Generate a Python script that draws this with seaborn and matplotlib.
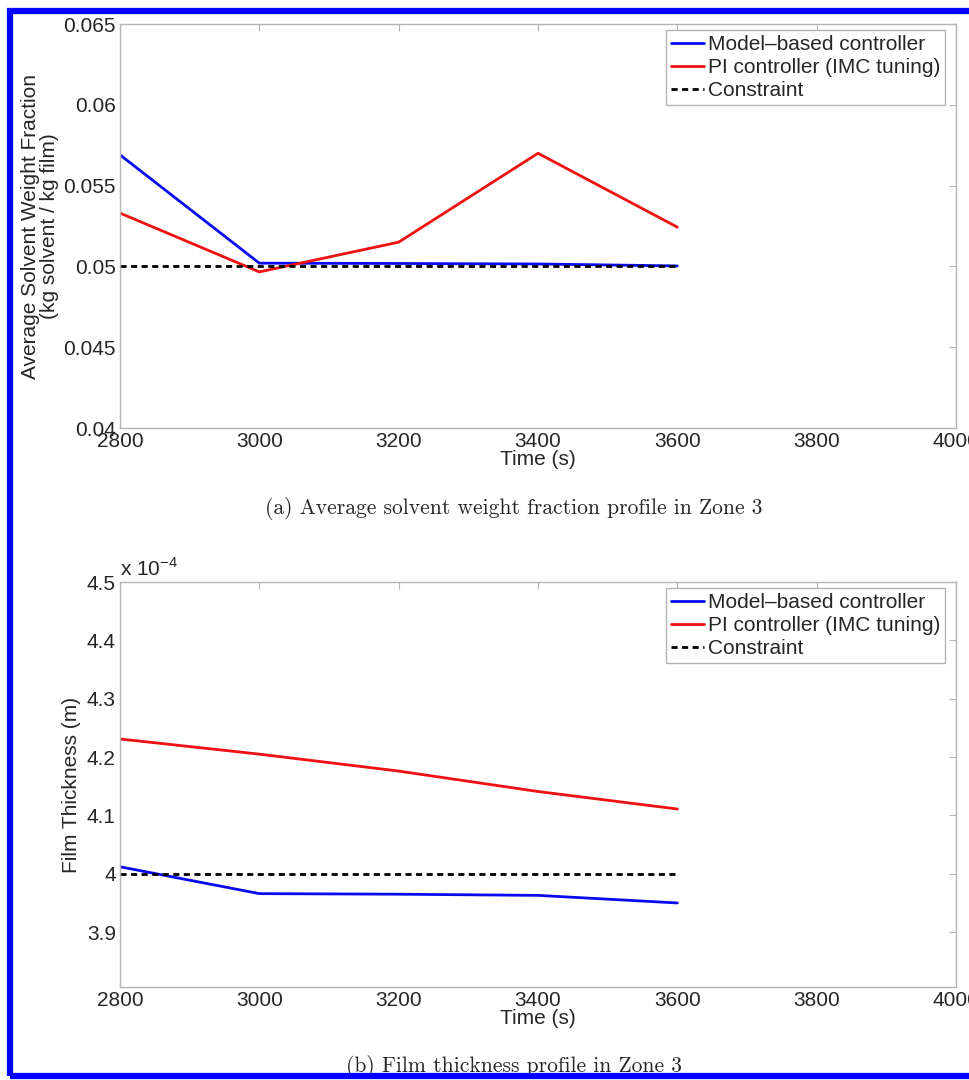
import numpy as np
import pandas as pd
import matplotlib
matplotlib.use("Agg")
import matplotlib.pyplot as plt
import matplotlib.ticker as mticker
from matplotlib.patches import Rectangle
import seaborn as sns

# data
time_s = [2800, 3000, 3200, 3400, 3600]
frac_model = [0.0569, 0.0502, 0.05018, 0.05015, 0.05003]
frac_pi = [0.0533, 0.04966, 0.0515, 0.0570, 0.05243]
frac_limit = [0.05, 0.05, 0.05, 0.05, 0.05]
thick_model = [4.012e-4, 3.966e-4, 3.965e-4, 3.963e-4, 3.950e-4]
thick_pi = [4.231e-4, 4.205e-4, 4.176e-4, 4.141e-4, 4.111e-4]
thick_limit = [4.0e-4, 4.0e-4, 4.0e-4, 4.0e-4, 4.0e-4]

labels = ["Model\u2013based controller", "PI controller (IMC tuning)", "Constraint"]
x_ticks = [2800, 3000, 3200, 3400, 3600, 3800, 4000]

sns.set_style("white")
plt.rcParams["font.family"] = ["Liberation Sans", "DejaVu Sans"]
plt.rcParams["mathtext.fontset"] = "custom"
plt.rcParams["mathtext.rm"] = "Liberation Sans"

blue = "#0a0af0"
red = "#ee1111"
spine_col = "#b4b4b4"

fig = plt.figure(figsize=(9.7, 10.8), dpi=100)
ax1 = fig.add_axes([120 / 970, 1 - 428 / 1080, 836 / 970, 404 / 1080])
ax2 = fig.add_axes([120 / 970, 1 - 987 / 1080, 836 / 970, 405 / 1080])


def draw(ax, model, pi, limit):
    df = pd.DataFrame({"t": time_s, "m": model, "p": pi, "c": limit})
    sns.lineplot(data=df, x="t", y="m", ax=ax, color=blue, lw=2.0, label=labels[0])
    sns.lineplot(data=df, x="t", y="p", ax=ax, color=red, lw=2.0, label=labels[1])
    sns.lineplot(data=df, x="t", y="c", ax=ax, color="black", lw=2.0,
                 dashes=(2.2, 1.6), label=labels[2])
    ax.lines[2].set_dashes((2.2, 1.6))
    ax.set_xlim(2800, 4000)
    ax.set_xticks(x_ticks)
    ax.tick_params(direction="in", length=5, width=0.8, color=spine_col,
                   labelsize=15, top=True, right=True, pad=3)
    for s in ax.spines.values():
        s.set_color(spine_col)
        s.set_linewidth(1.0)
    ax.set_xlabel("Time (s)", fontsize=15, labelpad=-1)
    leg = ax.legend(loc="upper right", bbox_to_anchor=(0.987, 0.986), fontsize=15,
                    handlelength=1.6, handletextpad=0.15, labelspacing=0.2,
                    borderpad=0.25, borderaxespad=0.0, fancybox=False,
                    framealpha=1, edgecolor=spine_col)
    leg.get_frame().set_linewidth(1.0)


draw(ax1, frac_model, frac_pi, frac_limit)
ax1.set_ylim(0.04, 0.065)
ax1.set_yticks([0.04, 0.045, 0.05, 0.055, 0.06, 0.065])
ax1.set_yticklabels(["0.04", "0.045", "0.05", "0.055", "0.06", "0.065"])
ax1.set_ylabel("Average Solvent Weight Fraction\n(kg solvent / kg film)",
               fontsize=15, linespacing=1.0, labelpad=3)

draw(ax2, thick_model, thick_pi, thick_limit)
ax2.set_ylim(3.806e-4, 4.5e-4)
ax2.set_yticks([3.9e-4, 4.0e-4, 4.1e-4, 4.2e-4, 4.3e-4, 4.4e-4, 4.5e-4])
ax2.yaxis.set_major_formatter(mticker.FuncFormatter(lambda v, p: f"{v / 1e-4:g}"))
ax2.set_ylabel("Film Thickness (m)", fontsize=15, labelpad=4)
ax2.text(0.0, 1.005, r"x 10$^{-4}$", transform=ax2.transAxes, fontsize=15,
         ha="left", va="bottom")

cap_font = ["cmr10", "DejaVu Serif"]
fig.text(514 / 970, 1 - 508 / 1080, "(a) Average solvent weight fraction profile in Zone 3",
         ha="center", va="center", fontsize=15.5, family=cap_font)
fig.text(514 / 970, 1 - 1066 / 1080, "(b) Film thickness profile in Zone 3",
         ha="center", va="center", fontsize=15.5, family=cap_font)

fig.patches.append(Rectangle((10 / 970, 4 / 1080), 1.2, 1 - 15 / 1080,
                             transform=fig.transFigure, fill=False,
                             edgecolor="#0000ff", lw=4.5, zorder=10))

fig.savefig("out.png", dpi=100)
